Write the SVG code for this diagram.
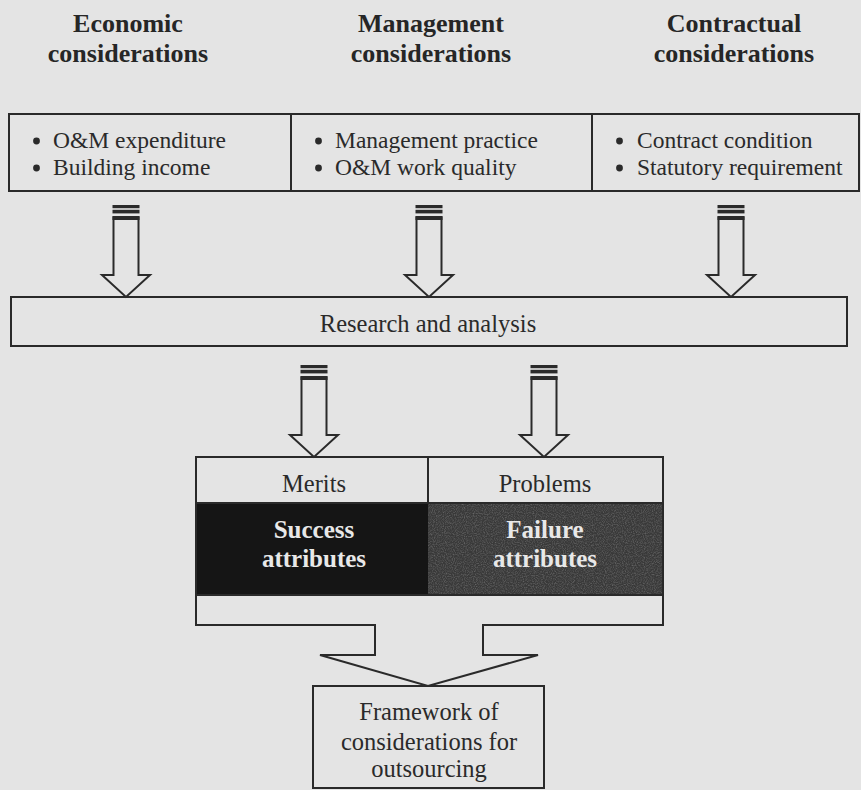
<svg xmlns="http://www.w3.org/2000/svg" width="861" height="790" viewBox="0 0 861 790">
  <defs>
    <style>
      .bg { fill: #e4e4e4; }
      .box { fill: none; stroke: #2a2a2a; stroke-width: 2; }
      .ln { stroke: #2a2a2a; stroke-width: 2; fill: none; }
      .head { font-family: "Liberation Serif", "Times New Roman", serif; font-weight: bold; font-size: 26px; fill: #262626; text-anchor: middle; }
      .item { font-family: "Liberation Serif", "Times New Roman", serif; font-size: 23.5px; fill: #2a2a2a; }
      .dot { fill: #2a2a2a; }
      .lbl { font-family: "Liberation Serif", "Times New Roman", serif; font-size: 24.5px; fill: #2a2a2a; text-anchor: middle; }
      .inv { font-family: "Liberation Serif", "Times New Roman", serif; font-weight: bold; font-size: 25px; fill: #e8e8e8; text-anchor: middle; }
      .shaft { fill: #e4e4e4; stroke: #2a2a2a; stroke-width: 2; stroke-linejoin: miter; }
      .band { fill: #2a2a2a; }
    </style>
    <!-- speckled grain for the grey shaded cell -->
    <filter id="grain" x="0" y="0" width="100%" height="100%">
      <feTurbulence type="fractalNoise" baseFrequency="0.9" numOctaves="2" seed="3" result="n"/>
      <feColorMatrix in="n" type="matrix" values="0 0 0 0 0.35  0 0 0 0 0.35  0 0 0 0 0.35  0 0 0 1.4 -0.55"/>
    </filter>
    <!-- hollow block arrow with a banded tail, origin at top centre -->
    <g id="blockArrow">
      <path class="shaft" d="M -12.5,12 V 70 H -24 L 0,92 L 24,70 H 12.5 V 12 Z"/>
      <rect class="band" x="-13.5" y="0" width="27" height="3.2"/>
      <rect class="band" x="-13.5" y="4.8" width="27" height="3.6"/>
      <rect class="band" x="-13.5" y="11.5" width="27" height="3.5"/>
    </g>
  </defs>

  <rect class="bg" x="0" y="0" width="861" height="790"/>

  <!-- column headings -->
  <g id="heading-economic">
    <text class="head" x="128" y="32">Economic</text>
    <text class="head" x="128" y="62">considerations</text>
  </g>
  <g id="heading-management">
    <text class="head" x="431" y="32">Management</text>
    <text class="head" x="431" y="62">considerations</text>
  </g>
  <g id="heading-contractual">
    <text class="head" x="734" y="32">Contractual</text>
    <text class="head" x="734" y="62">considerations</text>
  </g>

  <!-- consideration table -->
  <g id="considerations-table">
    <rect class="box" x="9" y="114" width="850" height="77"/>
    <line class="ln" x1="291" y1="114" x2="291" y2="191"/>
    <line class="ln" x1="592" y1="114" x2="592" y2="191"/>
    <circle class="dot" cx="36.5" cy="141" r="3.4"/>
    <text class="item" x="53" y="148">O&amp;M expenditure</text>
    <circle class="dot" cx="36.5" cy="168" r="3.4"/>
    <text class="item" x="53" y="175">Building income</text>
    <circle class="dot" cx="318.5" cy="141" r="3.4"/>
    <text class="item" x="335" y="148">Management practice</text>
    <circle class="dot" cx="318.5" cy="168" r="3.4"/>
    <text class="item" x="335" y="175">O&amp;M work quality</text>
    <circle class="dot" cx="619.5" cy="141" r="3.4"/>
    <text class="item" x="637" y="148">Contract condition</text>
    <circle class="dot" cx="619.5" cy="168" r="3.4"/>
    <text class="item" x="637" y="175">Statutory requirement</text>
  </g>

  <!-- research box -->
  <g id="research">
    <rect class="box" x="11" y="297" width="836" height="49"/>
    <text class="lbl" x="428" y="332">Research and analysis</text>
  </g>

  <!-- attributes box with notched outlet -->
  <g id="attributes">
    <rect x="197" y="503" width="231" height="92" fill="#151515"/>
    <rect x="428" y="503" width="235" height="92" fill="#393939"/>
    <rect x="428" y="503" width="235" height="92" filter="url(#grain)" opacity="0.6"/>
    <path class="box" d="M 196,457 H 663 V 625 H 483 V 655 H 538 L 428,686 L 320,655 H 375 V 625 H 196 Z"/>
    <line class="ln" x1="428" y1="457" x2="428" y2="503"/>
    <line class="ln" x1="196" y1="503" x2="663" y2="503"/>
    <line class="ln" x1="196" y1="595" x2="663" y2="595"/>
    <text class="lbl" x="314" y="492">Merits</text>
    <text class="lbl" x="545" y="492">Problems</text>
    <text class="inv" x="314" y="538">Success</text>
    <text class="inv" x="314" y="567">attributes</text>
    <text class="inv" x="545" y="538">Failure</text>
    <text class="inv" x="545" y="567">attributes</text>
  </g>

  <!-- framework box -->
  <g id="framework">
    <rect class="box" x="313" y="686" width="231" height="102"/>
    <text class="lbl" x="429" y="720">Framework of</text>
    <text class="lbl" x="429" y="750">considerations for</text>
    <text class="lbl" x="429" y="777">outsourcing</text>
  </g>

  <!-- connectors -->
  <g id="connectors">
    <use href="#blockArrow" x="126" y="205"/>
    <use href="#blockArrow" x="429" y="205"/>
    <use href="#blockArrow" x="731" y="205"/>
    <use href="#blockArrow" x="314" y="365"/>
    <use href="#blockArrow" x="544" y="365"/>
  </g>
</svg>
